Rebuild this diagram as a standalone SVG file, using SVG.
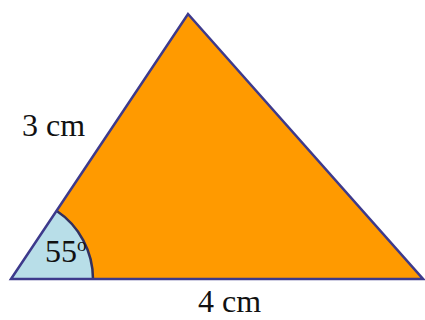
<svg xmlns="http://www.w3.org/2000/svg" width="425" height="320" viewBox="0 0 425 320">
<style>
.lbl{font-family:"Liberation Serif","Times New Roman",serif;font-size:32px;fill:#111}
.edge{fill:none;stroke:#3d3a8c;stroke-width:2.5;stroke-linejoin:miter}
</style>
<rect width="425" height="320" fill="#ffffff"/>
<g id="triangle">
<polygon points="11,279 188,14 423,279" fill="#ff9a00" stroke="none"/>
</g>
<g id="angle">
<path d="M11,279 L56.5,210.8 A82,82 0 0 1 93,279 Z" fill="#b8dee8" stroke="none"/>
<path d="M56.5,210.8 A82,82 0 0 1 93,279" fill="none" stroke="#33305e" stroke-width="2.5"/>
<text class="lbl" x="45" y="262" font-size="30">55<tspan font-size="19" dy="-11">o</tspan></text>
</g>
<g id="edges">
<polygon class="edge" points="11,279 188,14 423,279"/>
</g>
<g id="labels">
<text class="lbl" x="22" y="136">3 cm</text>
<text class="lbl" x="198" y="312">4 cm</text>
</g>
</svg>
